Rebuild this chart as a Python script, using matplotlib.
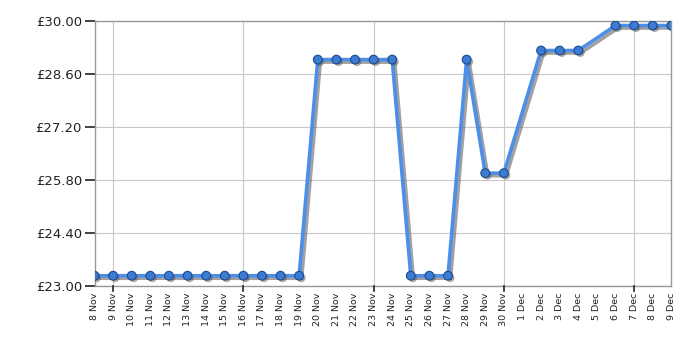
import matplotlib
matplotlib.use("Agg")
import matplotlib.pyplot as plt
import matplotlib.patheffects as pe
import numpy as np

dates = ["8 Nov", "9 Nov", "10 Nov", "11 Nov", "12 Nov", "13 Nov", "14 Nov", "15 Nov",
         "16 Nov", "17 Nov", "18 Nov", "19 Nov", "20 Nov", "21 Nov", "22 Nov", "23 Nov",
         "24 Nov", "25 Nov", "26 Nov", "27 Nov", "28 Nov", "29 Nov", "30 Nov", "1 Dec",
         "2 Dec", "3 Dec", "4 Dec", "5 Dec", "6 Dec", "7 Dec", "8 Dec", "9 Dec"]
prices = [23.27, 23.27, 23.27, 23.27, 23.27, 23.27, 23.27, 23.27,
          23.27, 23.27, 23.27, 23.27, 28.98, 28.98, 28.98, 28.98,
          28.98, 23.27, 23.27, 23.27, 28.98, 25.98, 25.98, None,
          29.22, 29.22, 29.22, None, 29.88, 29.88, 29.88, 29.88]
yticks = [23.00, 24.40, 25.80, 27.20, 28.60, 30.00]
ytick_labels = ["£23.00", "£24.40", "£25.80", "£27.20", "£28.60", "£30.00"]

fig = plt.figure(figsize=(7, 3.5), dpi=100)
ax = fig.add_axes([0.135, 0.183, 0.824, 0.757])

xs = [i for i, p in enumerate(prices) if p is not None]
ys = [p for p in prices if p is not None]

ax.plot(xs, ys, color="#4d8fe8", lw=2.6, solid_joinstyle="miter", zorder=3,
        path_effects=[pe.SimpleLineShadow(offset=(1.8, -1.8), shadow_color="#555555", alpha=0.55),
                      pe.Normal()])
ax.plot(xs, ys, ls="none", marker="o", ms=6.3, mfc="#3b7bd4", mec="#1d4a8f", mew=0.8, zorder=4,
        path_effects=[pe.SimplePatchShadow(offset=(1.5, -1.5), shadow_rgbFace="#555555", alpha=0.5),
                      pe.Normal()])

ax.set_xlim(0, len(dates) - 1)
ax.set_ylim(23.0, 30.0)
ax.set_yticks(yticks)
ax.set_yticklabels(ytick_labels, fontsize=9.5, color="#222222")
ax.set_xticks(range(len(dates)))
ax.set_xticklabels(dates, rotation=90, fontsize=6.8, color="#222222")

major = list(range(1, len(dates), 7))
ax.grid(False)
for y in yticks:
    ax.axhline(y, color="#c8c8c8", lw=0.8, zorder=1)
for x in major:
    ax.axvline(x, color="#c8c8c8", lw=0.8, zorder=1)

ax.tick_params(axis="y", length=7, width=1.2, color="#222222", pad=2)
ax.tick_params(axis="x", length=0, pad=5)
for x in major:
    ax.plot([x, x], [0, -0.02], transform=ax.get_xaxis_transform(), color="#222222",
            lw=1.2, clip_on=False, zorder=5)

for s in ax.spines.values():
    s.set_color("#999999")
    s.set_linewidth(1.0)

fig.savefig("out.png", dpi=100)
